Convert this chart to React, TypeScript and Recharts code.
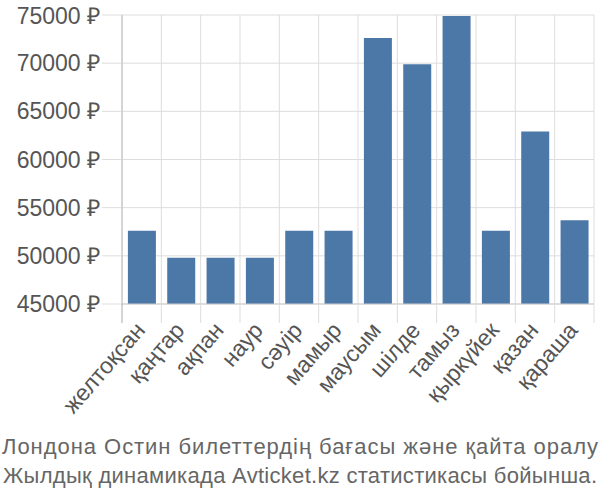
import { BarChart, Bar, XAxis, YAxis, CartesianGrid } from 'recharts'

const months = [
  'желтоқсан', 'қаңтар', 'ақпан', 'наур', 'сәуір', 'мамыр',
  'маусым', 'шілде', 'тамыз', 'қыркүйек', 'қазан', 'қараша'
]
const prices = [52600, 49800, 49800, 49800, 52600, 52600, 72600, 69900, 74900, 52600, 62900, 53700]
const yTicks = [45000, 50000, 55000, 60000, 65000, 70000, 75000]
const titleLines = [
  'Лондона Остин билеттердің бағасы және қайта оралу',
  'Жылдық динамикада Avticket.kz статистикасы бойынша.'
]

const chartData = months.map((m, i) => ({ month: m, price: prices[i] }))

const W = 600
const H = 500
const margin = { top: 15, right: 6, left: 0, bottom: 76 }
const yAxisWidth = 122
const band = (W - margin.left - margin.right - yAxisWidth) / months.length

function MonthTick(props: any) {
  const { x, y, payload, index } = props
  const left = x - band / 2
  const ax = x
  const ay = y + 23
  return (
    <g>
      <line x1={left} y1={y} x2={left} y2={y + 19} stroke={index === 0 ? '#aaa' : '#ddd'} />
      {index === months.length - 1 && (
        <line x1={x + band / 2} y1={y} x2={x + band / 2} y2={y + 19} stroke="#ddd" />
      )}
      <text
        x={ax}
        y={ay}
        transform={`rotate(-49, ${ax}, ${ay})`}
        textAnchor="end"
        dominantBaseline="middle"
        fill="#555"
        fontSize={23}
      >
        {payload.value}
      </text>
    </g>
  )
}

export default function App() {
  return (
    <div style={{ position: 'absolute', left: 0, top: 0, width: W, height: H, background: '#fff', fontFamily: '"Liberation Sans", Arial, sans-serif' }}>
      <BarChart width={W} height={H} data={chartData} margin={margin} barCategoryGap="15%">
        <CartesianGrid
          stroke="#ddd"
          verticalCoordinatesGenerator={({ offset }: any) =>
            months.map((_, i) => offset.left + (i + 1) * band)
          }
        />
        <XAxis
          dataKey="month"
          interval={0}
          tickLine={false}
          tickSize={0}
          tickMargin={0}
          height={120}
          axisLine={{ stroke: '#ccc' }}
          tick={<MonthTick />}
        />
        <YAxis
          width={yAxisWidth}
          domain={[45000, 75000]}
          ticks={yTicks}
          allowDataOverflow
          tickSize={20}
          tickMargin={2}
          tickLine={{ stroke: '#ddd' }}
          axisLine={{ stroke: '#aaa' }}
          tickFormatter={(v: number) => `${v} ₽`}
          tick={{ fill: '#555', fontSize: 23 }}
        />
        <Bar dataKey="price" fill="#4c78a8" isAnimationActive={false} />
      </BarChart>
      <svg width={W} height={70} style={{ position: 'absolute', left: 0, top: 430 }}>
        {titleLines.map((t, i) => (
          <text
            key={t}
            x={W / 2}
            y={24 + i * 29}
            textAnchor="middle"
            fill="#666"
            fontSize={22}
            textLength={i === 0 ? 596 : 594}
            lengthAdjust="spacing"
          >
            {t}
          </text>
        ))}
      </svg>
    </div>
  )
}
